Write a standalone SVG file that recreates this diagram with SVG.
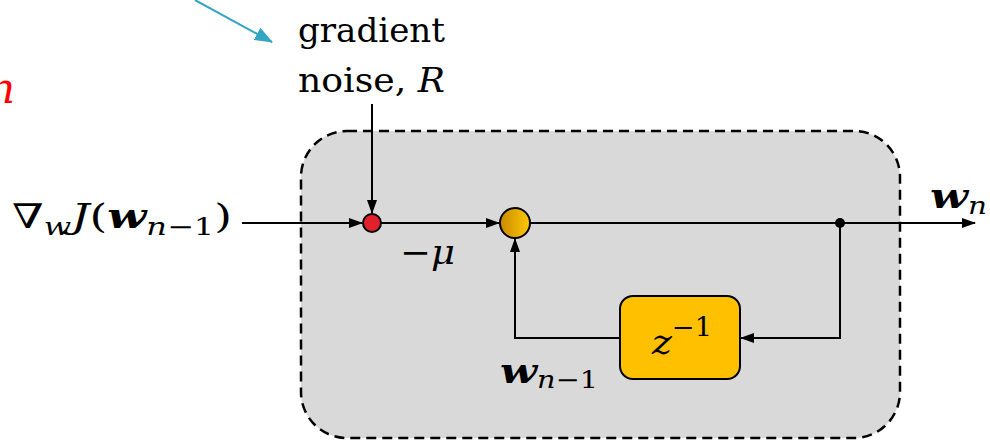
<svg xmlns="http://www.w3.org/2000/svg" width="990" height="441" viewBox="0 0 990 441">
<defs>
<marker id="ah" markerWidth="14" markerHeight="10" refX="13" refY="5" orient="auto" markerUnits="userSpaceOnUse">
<path d="M0,0 L14,5 L0,10 Z" fill="#000"/>
</marker>
<marker id="ahb" markerWidth="18" markerHeight="14" refX="17" refY="7" orient="auto" markerUnits="userSpaceOnUse">
<path d="M0,0 L18,7 L0,14 Z" fill="#33a6c3"/>
</marker>
<linearGradient id="og" x1="0" y1="0" x2="1" y2="0">
<stop offset="0" stop-color="#c88a00"/>
<stop offset="1" stop-color="#ffc800"/>
</linearGradient>
</defs>
<g id="frame">
<rect x="301" y="131" width="599" height="307" rx="46" ry="46" fill="#d9d9d9" stroke="#000" stroke-width="2.5" stroke-dasharray="10,6"/>
</g>
<g id="partial">
<text x="-12" y="103" font-family="DejaVu Serif, serif" font-size="42" font-style="italic" fill="#ff0000">n</text>
</g>
<g id="noise-label">
<text x="298" y="42" font-family="DejaVu Serif, serif" font-size="34" textLength="147" lengthAdjust="spacingAndGlyphs">gradient</text>
<text x="298" y="92" font-family="DejaVu Serif, serif" font-size="34" textLength="147" lengthAdjust="spacingAndGlyphs">noise, <tspan font-style="italic">R</tspan></text>
</g>
<g id="input-label">
<text x="12" y="228" font-family="DejaVu Serif, serif" font-size="34" textLength="220" lengthAdjust="spacingAndGlyphs">∇<tspan font-style="italic" font-size="24" dy="7">w</tspan><tspan font-style="italic" dy="-7">J</tspan>(<tspan font-style="italic" font-weight="bold">w</tspan><tspan font-style="italic" font-size="24" dy="7">n</tspan><tspan font-size="24">−1</tspan><tspan dy="-7">)</tspan></text>
</g>
<g id="connectors" stroke="#000" stroke-width="2" fill="none">
<line x1="195" y1="0" x2="272" y2="42" stroke="#33a6c3" marker-end="url(#ahb)"/>
<line x1="372" y1="104" x2="372" y2="213" marker-end="url(#ah)"/>
<line x1="242" y1="223" x2="362" y2="223" marker-end="url(#ah)"/>
<line x1="381" y1="223" x2="499" y2="223" marker-end="url(#ah)"/>
<line x1="530" y1="223" x2="975" y2="223" marker-end="url(#ah)"/>
<polyline points="840,223 840,338 741,338" marker-end="url(#ah)"/>
<polyline points="620,338 515,338 515,239" marker-end="url(#ah)"/>
<circle cx="840" cy="223" r="5" fill="#000" stroke="none"/>
</g>
<g id="sum-noise">
<circle cx="372" cy="223" r="9" fill="#e0202a" stroke="#000" stroke-width="2"/>
</g>
<g id="sum-main">
<circle cx="515" cy="223" r="15" fill="url(#og)" stroke="#000" stroke-width="2"/>
</g>
<g id="delay">
<rect x="620" y="296" width="120" height="83" rx="13" ry="13" fill="#ffc000" stroke="#000" stroke-width="2"/>
<text x="652" y="354" font-family="DejaVu Serif, serif" font-size="36" font-style="italic" textLength="60" lengthAdjust="spacingAndGlyphs">z<tspan font-style="normal" font-size="26" dy="-18">−1</tspan></text>
</g>
<g id="labels">
<text x="400" y="264" font-family="DejaVu Serif, serif" font-size="34" textLength="55" lengthAdjust="spacingAndGlyphs">−<tspan font-style="italic">μ</tspan></text>
<text x="500" y="383" font-family="DejaVu Serif, serif" font-size="36" font-style="italic" font-weight="bold" textLength="98" lengthAdjust="spacingAndGlyphs">w<tspan font-weight="normal" font-size="24" dy="5">n</tspan><tspan font-weight="normal" font-style="normal" font-size="24">−1</tspan></text>
<text x="930" y="208" font-family="DejaVu Serif, serif" font-size="36" font-style="italic" font-weight="bold" textLength="57" lengthAdjust="spacingAndGlyphs">w<tspan font-weight="normal" font-size="24" dy="6">n</tspan></text>
</g>
</svg>
